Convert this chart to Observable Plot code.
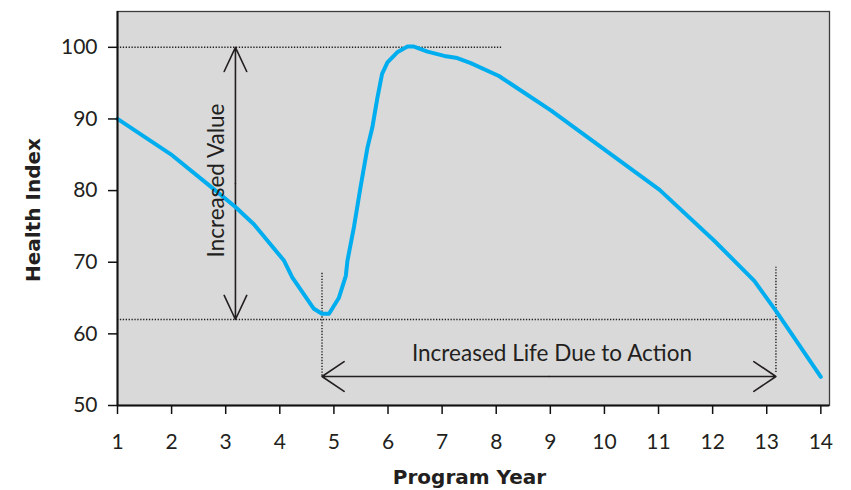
<!DOCTYPE html>
<html>
<head>
<meta charset="utf-8">
<script src="https://cdn.jsdelivr.net/npm/d3@7"></script>
<script src="https://cdn.jsdelivr.net/npm/@observablehq/plot@0.6"></script>
<style>
  html, body { margin: 0; padding: 0; background: #ffffff; }
  #chart svg { display: block; }
</style>
</head>
<body>
<div id="chart"></div>
<script>
// Health index curve
const years = [1, 1.98, 2.78, 3.18, 3.52, 4.08, 4.23, 4.63, 4.78, 4.91, 5.09, 5.22, 5.25, 5.37, 5.49, 5.62, 5.71, 5.80, 5.89, 5.99, 6.17, 6.36, 6.48, 6.73, 7.04, 7.28, 7.53, 8.05, 9.01, 9.99, 11.02, 12.03, 12.77, 13.17, 14.0];
const healthIndex = [90, 85.1, 80.2, 77.7, 75.3, 70.2, 67.9, 63.5, 62.8, 62.8, 65.0, 68.1, 70.2, 74.9, 80.4, 86.0, 88.8, 92.8, 96.3, 97.9, 99.3, 100.1, 100.1, 99.4, 98.8, 98.5, 97.8, 96.0, 91.2, 85.8, 80.1, 73.0, 67.4, 63.2, 54.0];

// Axis ticks
const xTicks = [1, 2, 3, 4, 5, 6, 7, 8, 9, 10, 11, 12, 13, 14];
const yTicks = [50, 60, 70, 80, 90, 100];

// Annotation values
const peakLevel = 100, peakLineEnd = 8.1;
const troughLevel = 62, troughLineEnd = 13.2;
const actionYear = 4.78, endYear = 13.17;
const guideTop = [68.6, 69.3], guideBottom = [54.1, 54.6];
const lifeArrowLevel = 54.05;
const valueArrowYear = 3.18;

const data = years.map((x, i) => ({x, y: healthIndex[i]}));
const hDotted = [
  {x1: 1, x2: peakLineEnd, y: peakLevel},
  {x1: 1, x2: troughLineEnd, y: troughLevel}
];
const vDotted = [
  {x: actionYear, y1: guideBottom[0], y2: guideTop[0]},
  {x: endYear, y1: guideBottom[1], y2: guideTop[1]}
];
const lifeMid = (actionYear + endYear) / 2;
const lifeArrows = [
  {x1: lifeMid, x2: actionYear, y: lifeArrowLevel},
  {x1: lifeMid, x2: endYear, y: lifeArrowLevel}
];
const valueMid = (peakLevel + troughLevel) / 2;
const valueArrows = [
  {x: valueArrowYear, y1: valueMid, y2: peakLevel},
  {x: valueArrowYear, y1: valueMid, y2: troughLevel}
];

const ink = "#231f20";
const dash = {stroke: ink, strokeWidth: 1.4, strokeDasharray: "1.3,1.6"};
const boldFont = "'DejaVu Sans', Lato, sans-serif";

const chart = Plot.plot({
  width: 851,
  height: 490,
  marginLeft: 117,
  marginRight: 22,
  marginTop: 11,
  marginBottom: 85,
  style: {fontFamily: "Lato, 'Open Sans', sans-serif", color: ink, background: "#ffffff"},
  x: {domain: [1, 14.16]},
  y: {domain: [50, 105]},
  marks: [
    Plot.frame({fill: "#d9d9d9", stroke: "#3c3c3c", strokeWidth: 1.3}),
    Plot.ruleY(hDotted, {x1: "x1", x2: "x2", y: "y", ...dash}),
    Plot.ruleX(vDotted, {x: "x", y1: "y1", y2: "y2", ...dash}),
    Plot.arrow(lifeArrows, {x1: "x1", x2: "x2", y1: "y", y2: "y", stroke: ink, strokeWidth: 1.6, headAngle: 68, headLength: 25}),
    Plot.arrow(valueArrows, {x1: "x", x2: "x", y1: "y1", y2: "y2", stroke: ink, strokeWidth: 1.6, headAngle: 50, headLength: 25}),
    Plot.line(data, {x: "x", y: "y", stroke: "#00aeef", strokeWidth: 4, strokeLinejoin: "round", strokeLinecap: "round"}),
    Plot.text(["Increased Value"], {x: 2.83, y: 81.4, rotate: -90, fontSize: 22.5, fill: ink, textAnchor: "middle", lineAnchor: "middle"}),
    Plot.text(["Increased Life Due to Action"], {x: 9.03, y: 57.2, fontSize: 22.5, fill: ink, textAnchor: "middle", lineAnchor: "middle"}),
    Plot.ruleX([1], {stroke: "#111", strokeWidth: 2}),
    Plot.ruleY([50], {stroke: "#111", strokeWidth: 2}),
    Plot.axisX({ticks: xTicks, tickSize: 9, tickPadding: 20, fontSize: 21, strokeWidth: 1.5, stroke: "#111", label: null, tickFormat: d => String(d)}),
    Plot.axisY({ticks: yTicks, tickSize: 9, tickPadding: 11, fontSize: 21, strokeWidth: 1.5, stroke: "#111", label: null}),
    Plot.text(["Program Year"], {frameAnchor: "bottom", dx: -4, dy: 72, fontSize: 20, fontWeight: "bold", fontFamily: boldFont, fill: ink, textAnchor: "middle", lineAnchor: "middle"}),
    Plot.text(["Health Index"], {frameAnchor: "left", dx: -84, dy: 1.5, rotate: -90, fontSize: 20, fontWeight: "bold", fontFamily: boldFont, fill: ink, textAnchor: "middle", lineAnchor: "middle"})
  ]
});
document.getElementById("chart").appendChild(chart);
</script>
</body>
</html>
